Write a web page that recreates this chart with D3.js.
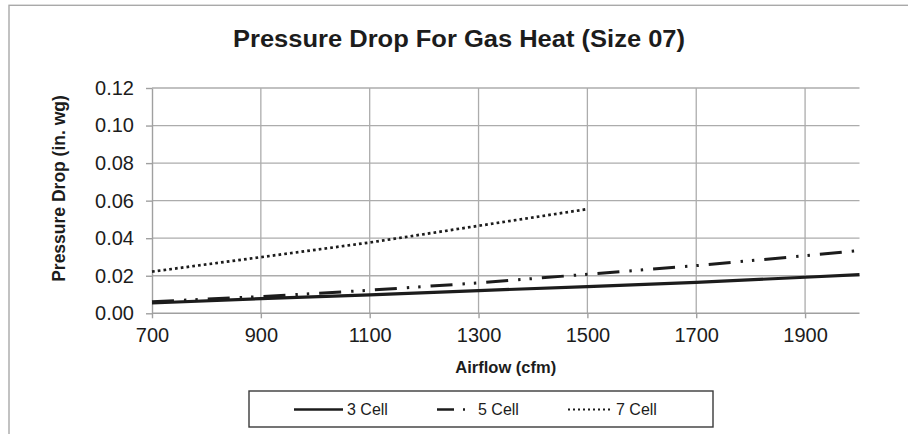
<!DOCTYPE html>
<html>
<head>
<meta charset="utf-8">
<script src="https://cdn.jsdelivr.net/npm/d3@7"></script>
<style>
  html, body { margin: 0; padding: 0; background: #fff; }
  svg { display: block; font-family: "Liberation Sans", Arial, sans-serif; }
</style>
</head>
<body>
<svg id="chart" width="908" height="434"></svg>
<script>
// Pressure drop across the gas heat section, size 07 unit
const airflow = [700, 900, 1100, 1300, 1500, 1700, 1900, 2000];
const cell3 = [0.0055, 0.0078, 0.0098, 0.0121, 0.0142, 0.0165, 0.0192, 0.0206];
const cell5 = [0.0062, 0.0089, 0.0123, 0.0162, 0.0208, 0.0254, 0.0307, 0.0334];
const airflow7 = [700, 900, 1100, 1300, 1500];
const cell7 = [0.0222, 0.0299, 0.0377, 0.0466, 0.0555];

const xTicks = [700, 900, 1100, 1300, 1500, 1700, 1900];
const yTicks = [0, 0.02, 0.04, 0.06, 0.08, 0.10, 0.12];
const seriesNames = ["3 Cell", "5 Cell", "7 Cell"];

const titleText = "Pressure Drop For Gas Heat (Size 07)";
const xTitle = "Airflow (cfm)";
const yTitle = "Pressure Drop (in. wg)";

const svg = d3.select("#chart");
const ink = "#1c1c1c";
const gridColor = "#acacac";

// outer chart frame
svg.append("rect")
  .attr("x", 9).attr("y", 5.3)
  .attr("width", 940).attr("height", 460)
  .attr("fill", "#fff")
  .attr("stroke", "#a9a9a9").attr("stroke-width", 1.4);

const x = d3.scaleLinear().domain([700, 2000]).range([152, 859.5]);
const y = d3.scaleLinear().domain([0, 0.12]).range([313.3, 88]);

// gridlines
const grid = svg.append("g");
grid.selectAll("line.h").data(yTicks.filter(d => d > 0)).join("line")
  .attr("class", "h")
  .attr("x1", x(700)).attr("x2", x(2000))
  .attr("y1", d => y(d)).attr("y2", d => y(d))
  .attr("stroke", gridColor).attr("stroke-width", 1.3);
grid.selectAll("line.v").data(xTicks.filter(d => d > 700)).join("line")
  .attr("class", "v")
  .attr("x1", d => x(d)).attr("x2", d => x(d))
  .attr("y1", y(0.12)).attr("y2", y(0))
  .attr("stroke", gridColor).attr("stroke-width", 1.3);

// axes
const yAxis = svg.append("g")
  .attr("transform", `translate(${x(700)},0)`)
  .call(d3.axisLeft(y).tickValues(yTicks).tickFormat(d3.format(".2f")).tickSize(6).tickPadding(12).tickSizeOuter(0));
const xAxis = svg.append("g")
  .attr("transform", `translate(0,${y(0)})`)
  .call(d3.axisBottom(x).tickValues(xTicks).tickFormat(d3.format("d")).tickSize(5).tickPadding(10).tickSizeOuter(0));

[yAxis, xAxis].forEach(g => {
  g.select(".domain").attr("stroke", "#a0a0a0").attr("stroke-width", 1.4);
  g.selectAll(".tick line").attr("stroke", "#a0a0a0").attr("stroke-width", 1.4);
  g.selectAll(".tick text")
    .attr("fill", ink)
    .style("font-size", "20px")
    .style("font-family", '"Liberation Sans", Arial, sans-serif');
});
xAxis.select(".domain").attr("d", `M${x(700)},0.5H${x(2000)}`).attr("transform", "translate(0,-0.5)");

// series
const styles = [
  { width: 3.2, dash: null },
  { width: 3, dash: "22,10,2.4,9,2.4,10" },
  { width: 2.7, dash: "2.7,3.1" }
];

const line = d3.line().x(d => x(d[0])).y(d => y(d[1]));
const data = [
  airflow.map((a, i) => [a, cell3[i]]),
  airflow.map((a, i) => [a, cell5[i]]),
  airflow7.map((a, i) => [a, cell7[i]])
];

svg.append("g").selectAll("path").data(data).join("path")
  .attr("d", line)
  .attr("fill", "none")
  .attr("stroke", ink)
  .attr("stroke-width", (d, i) => styles[i].width)
  .attr("stroke-dasharray", (d, i) => styles[i].dash);

// titles
svg.append("text")
  .attr("x", 459).attr("y", 47)
  .attr("text-anchor", "middle")
  .attr("fill", ink)
  .attr("textLength", 452).attr("lengthAdjust", "spacingAndGlyphs")
  .style("font-size", "23px").style("font-weight", "bold")
  .text(titleText);

svg.append("text")
  .attr("x", x(1350)).attr("y", 373)
  .attr("text-anchor", "middle")
  .attr("fill", ink)
  .style("font-size", "16.5px").style("font-weight", "bold")
  .text(xTitle);

svg.append("text")
  .attr("transform", "translate(65,188.5) rotate(-90)")
  .attr("text-anchor", "middle")
  .attr("fill", ink)
  .style("font-size", "17.5px").style("font-weight", "bold")
  .text(yTitle);

// legend
const legend = svg.append("g");
legend.append("rect")
  .attr("x", 249).attr("y", 391)
  .attr("width", 464).attr("height", 36)
  .attr("fill", "#fff")
  .attr("stroke", "#3a3a3a").attr("stroke-width", 1.4);

const legendItems = [
  { x0: 294, x1: 343 },
  { x0: 437, x1: 474 },
  { x0: 568, x1: 612 }
];
const ly = 409.5;
legendItems.forEach((it, i) => {
  legend.append("line")
    .attr("x1", it.x0).attr("x2", it.x1)
    .attr("y1", ly).attr("y2", ly)
    .attr("stroke", ink)
    .attr("stroke-width", i === 2 ? 2 : 2.6)
    .attr("stroke-dasharray", i === 1 ? "17,9,2,9,2,10" : (i === 2 ? "2,3" : null));
  legend.append("text")
    .attr("x", it.x1 + 4).attr("y", ly)
    .attr("dy", "0.35em")
    .attr("fill", ink)
    .style("font-size", "16px")
    .text(seriesNames[i]);
});
</script>
</body>
</html>
